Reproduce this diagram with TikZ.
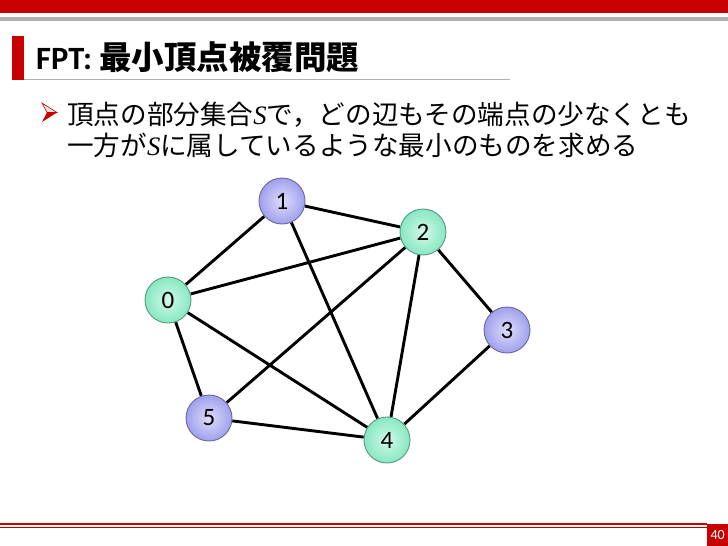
\documentclass[tikz,border=0pt]{standalone}
\usepackage{fontspec}
\setmainfont{Carlito}
\newfontfamily\jpfont{Noto Sans CJK JP}
\newfontfamily\serifit{Liberation Serif}
\usepackage{tikz}
\usetikzlibrary{positioning, backgrounds}
\usepackage{xcolor}
\definecolor{slidered}{HTML}{C80000}
\definecolor{slidegray}{HTML}{B0B0B0}
\definecolor{vgreen}{HTML}{86E8C2}
\definecolor{vblue}{HTML}{A0A0EE}

\begin{document}
\begin{tikzpicture}[
  x=1pt, y=-1pt,
  vtx/.style={circle, draw=#1!65!black, line width=0.9pt, minimum size=46pt,
    inner sep=0pt, inner color=#1!35!white, outer color=#1,
    font=\fontsize{25}{25}\selectfont},
  link/.style={line width=2.9pt, black},
  body/.style={anchor=base west, inner sep=0pt,
    font=\jpfont\fontsize{26.6}{26.6}\selectfont}
]
  \useasboundingbox (0,0) rectangle (728,546);

  % Header bars
  \fill[slidered] (0,0) rectangle (728,13);
  \fill[slidegray] (0,17) rectangle (728,21);

  % Title
  \fill[slidered] (12,36) rectangle (24,80);
  \draw[slidegray, line width=1pt] (24,79) -- (510,79);
  \node[anchor=base west, inner sep=0pt, font=\fontsize{32.5}{32.5}\selectfont]
    (title) at (36,69) {\bfseries FPT: {\jpfont 最小頂点被覆問題}};

  % Bullet
  \fill[slidered!12, draw=slidered, line width=0.6pt]
    (42,103) -- (57,112.5) -- (47,112.5) -- cycle;
  \fill[slidered] (47,112.5) -- (57,112.5) -- (42,122) -- cycle;
  \node[body] (line1) at (67,124)
    {頂点の部分集合{\serifit\itshape S}で，どの辺もその端点の少なくとも};
  \node[body] (line2) at (67,155)
    {一方が{\serifit\itshape S}に属しているような最小のものを求める};

  % Vertices
  \foreach \n/\x/\y/\c in {0/168/300/vgreen, 1/282/201/vblue, 2/423/232/vgreen,
      3/507/330/vblue, 4/387/440/vgreen, 5/209/418/vblue} {
    \node[vtx=\c] (v\n) at (\x,\y) {\n};
  }

  % Edges
  \begin{scope}[on background layer]
    \foreach \a/\b in {0/1, 0/2, 0/4, 0/5, 1/2, 1/4, 2/3, 2/4, 2/5, 3/4, 5/4} {
      \draw[link] (v\a) -- (v\b);
    }
  \end{scope}

  % Footer
  \draw[slidered, line width=1.8pt] (0,524) -- (707,524);
  \draw[slidered, line width=0.8pt] (0,527) -- (707,527);
  \node[fill=slidered, text=white, minimum width=21pt, minimum height=22pt,
    inner sep=0pt, anchor=north west, font=\fontsize{14}{14}\selectfont]
    (pagenum) at (707,524) {40};
\end{tikzpicture}
\end{document}
